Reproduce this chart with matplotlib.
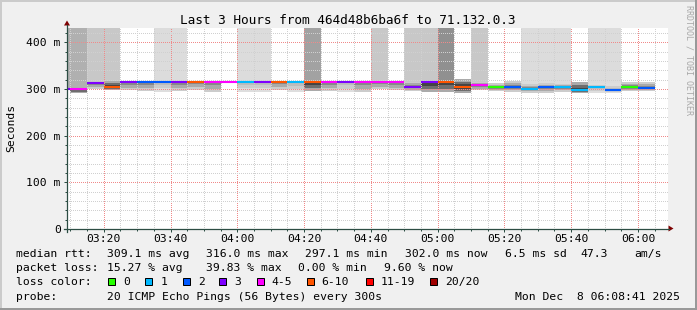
import matplotlib
matplotlib.use("Agg")
import matplotlib.pyplot as plt
from matplotlib.patches import Rectangle, Polygon
from matplotlib.lines import Line2D
from matplotlib.ticker import MultipleLocator, FixedLocator, FuncFormatter

W, H = 697, 310
plt.rcParams["font.family"] = ["DejaVu Sans Mono"]

# === DATA (one 5 minute step per column, x = minutes after 03:00, end of step) ===
step_end = list(range(10, 186, 5))  # 03:10 ... 06:05

median_ms = [300.5, 300.5, 313, 305, 314, 316, 316, 314, 316, 316,
             315, 316, 316, 316, 314, 316, 316, 316, 316, 314.5,
             314, 305, 314, 316, 305, 309, 304, 304, 300.5, 304,
             304, 297.1, 304, 298, 304, 302]

# index into loss_labels
loss_idx = [3, 4, 3, 5, 3, 2, 2, 3, 5, 4,
            4, 1, 3, 5, 1, 5, 4, 3, 4, 4,
            4, 3, 3, 5, 5, 4, 0, 2, 1, 2,
            1, 1, 1, 2, 0, 2]

smoke_lo = [300, 291, 299, 298, 297, 295, 294, 295, 297, 293,
            313, 294, 294, 298, 294, 295, 296, 293, 293, 300,
            297, 295, 294, 293, 291, 297, 295, 294, 292, 292,
            294, 292, 292, 292, 295, 296]

smoke_hi = [301, 302, 316, 317, 317, 318, 318, 317, 318, 318,
            316, 318, 318, 318, 316, 318, 318, 318, 318, 317,
            317, 316, 317, 318, 321, 316, 312, 317, 310, 312,
            311, 315, 312, 312, 315, 315]

smoke_dens = [2, 3, 2, 3, 2, 2, 1, 2, 2, 2,
              1, 1, 1, 2, 1, 3, 2, 1, 2, 2,
              2, 2, 3, 3, 3, 2, 2, 2, 2, 2,
              2, 3, 1, 1, 2, 2]

# pings above the top of the graph (shade of the tall column)
high_pings = [3, 3, 2, 2, 0, 0, 1, 1, 0, 0,
              0, 1, 1, 0, 0, 4, 0, 0, 0, 2,
              0, 2, 2, 5, 0, 2, 0, 0, 1, 1,
              1, 0, 1, 1, 0, 0]

loss_labels = ["0", "1", "2", "3", "4-5", "6-10", "11-19", "20/20"]
loss_colors = ["#26ff00", "#00b8ff", "#0059ff", "#7e00ff", "#ff00ff",
               "#ff5500", "#ff0000", "#a00000"]

stats_rtt = ["309.1 ms avg", "316.0 ms max", "297.1 ms min", "302.0 ms now",
             "6.5 ms sd", "47.3", "am/s"]
stats_loss = ["15.27 % avg", "39.83 % max", "0.00 % min", "9.60 % now"]

# === STYLE ===
HIGH_SHADE = {1: "#dcdcdc", 2: "#c8c8c8", 3: "#b0b0b0", 4: "#a2a2a2", 5: "#909090"}
SMOKE = {1: ["#dedede", "#cccccc", "#bcbcbc"],
         2: ["#cccccc", "#aaaaaa", "#888888"],
         3: ["#aaaaaa", "#6e6e6e", "#444444"]}
AXIS = "#2c4d43"
ARROW = "#7f0000"
DOTS = (0.5, (1, 1))


def fx(x):
    return x / W


def fy(y):
    return 1 - y / H


fig = plt.figure(figsize=(W / 100, H / 100), dpi=100, facecolor="#f0f0f0")
ax = fig.add_axes([fx(67), fy(229), 601 / W, 201 / H])
ax.set_facecolor("white")
ax.set_xlim(9, 189)
ax.set_ylim(0, 430.7)

left = [t - 5 for t in step_end]
for x0, med, lo, hi, d, hp in zip(left, median_ms, smoke_lo, smoke_hi, smoke_dens, high_pings):
    if hp:
        ax.bar(x0, 500 - hi, bottom=hi, width=5, align="edge",
               color=HIGH_SHADE[hp], linewidth=0, antialiased=False)
    for k, c in enumerate(SMOKE[d]):
        b = lo + k * (med - lo) / 3
        t = hi - k * (hi - med) / 3
        ax.bar(x0, t - b, bottom=b, width=5, align="edge",
               color=c, linewidth=0, antialiased=False)

ax.hlines(median_ms, left, step_end, colors=[loss_colors[i] for i in loss_idx],
          linewidth=1.5, zorder=4)

# ticks
ax.xaxis.set_major_locator(MultipleLocator(20))
ax.xaxis.set_minor_locator(FixedLocator([m for m in range(10, 190, 5) if m % 20]))
ax.yaxis.set_major_locator(MultipleLocator(100))
ax.yaxis.set_minor_locator(FixedLocator([v for v in range(20, 440, 20) if v % 100]))
ax.xaxis.set_major_formatter(FuncFormatter(
    lambda v, _: f"{3 + int(v) // 60:02d}:{int(v) % 60:02d}"))
ax.yaxis.set_major_formatter(FuncFormatter(
    lambda v, _: "0" if v == 0 else f"{int(v)} m"))
ax.tick_params(which="both", direction="out", color=AXIS, width=0.72,
               labelsize=8.2, labelcolor="#000000")
ax.tick_params(which="major", length=2.2)
ax.tick_params(which="minor", length=1.5)
ax.tick_params(axis="y", pad=2.3)
ax.tick_params(axis="x", pad=1.6)
for s in ax.spines.values():
    s.set_visible(False)

# grid (dotted, 1px on / 1px off), drawn over the smoke
ax.set_axisbelow(False)
ax.tick_params(which="minor", grid_color="#d0d0d0", grid_linestyle=DOTS, grid_linewidth=0.72)
ax.tick_params(which="major", grid_color="#f08a8a", grid_linestyle=DOTS, grid_linewidth=0.72)
ax.grid(True, which="both")

# axis lines + arrows
fig.add_artist(Line2D([fx(64), fx(669)], [fy(228.5), fy(228.5)], color=AXIS, lw=0.9))
fig.add_artist(Line2D([fx(67), fx(67)], [fy(232), fy(25)], color=AXIS, lw=0.9))
fig.add_artist(Polygon([(fx(64), fy(25.5)), (fx(70), fy(25.5)), (fx(67), fy(20.5))],
                       closed=True, color=ARROW, lw=0))
fig.add_artist(Polygon([(fx(668.5), fy(225.5)), (fx(668.5), fy(231.5)), (fx(673.5), fy(228.5))],
                       closed=True, color=ARROW, lw=0))

# titles
fig.text(fx(348), fy(24), "Last 3 Hours from 464d48b6ba6f to 71.132.0.3",
         ha="center", va="baseline", fontsize=9.2)
fig.text(fx(11), fy(128), "Seconds", rotation=90, ha="center", va="center", fontsize=8.2)
fig.text(fx(688.5), fy(5), "RRDTOOL / TOBI OETIKER", rotation=270, ha="center", va="top",
         fontsize=6, color="#a8a8a8")

# legend block
fs = 8.2
fig.text(fx(16.4), fy(257), "median rtt:", va="baseline", fontsize=fs)
for s, x in zip(stats_rtt, [107, 206, 305, 405, 505, 580, 634]):
    fig.text(fx(x), fy(257), s, va="baseline", fontsize=fs)

fig.text(fx(16.4), fy(271), "packet loss:", va="baseline", fontsize=fs)
for s, x in zip(stats_loss, [107, 206, 298, 384]):
    fig.text(fx(x), fy(271), s, va="baseline", fontsize=fs)

fig.text(fx(16.4), fy(285), "loss color:", va="baseline", fontsize=fs)
for lab, col, x in zip(loss_labels, loss_colors, [108.3, 145.3, 182.7, 219.3, 256.7, 306.7, 366, 430]):
    fig.add_artist(Rectangle((fx(x), fy(284.5)), 7 / W, 7 / H, facecolor=col,
                             edgecolor="black", linewidth=0.72))
    fig.text(fx(x + 15), fy(285), lab, va="baseline", fontsize=fs)

fig.text(fx(16.4), fy(299.5), "probe:", va="baseline", fontsize=fs)
fig.text(fx(107), fy(299.5), "20 ICMP Echo Pings (56 Bytes) every 300s", va="baseline", fontsize=fs)
fig.text(fx(680), fy(299.5), "Mon Dec  8 06:08:41 2025", ha="right", va="baseline", fontsize=fs)

# image border (rrdtool shade)
fig.add_artist(Rectangle((0, fy(2)), 1, 2 / H, color="#cbcbcb", lw=0))
fig.add_artist(Rectangle((0, 0), 2 / W, 1, color="#cbcbcb", lw=0))
fig.add_artist(Rectangle((0, 0), 1, 2 / H, color="#999999", lw=0))
fig.add_artist(Rectangle((1 - 2 / W, 0), 2 / W, 1, color="#999999", lw=0))

fig.savefig("out.png", dpi=100, facecolor=fig.get_facecolor())
